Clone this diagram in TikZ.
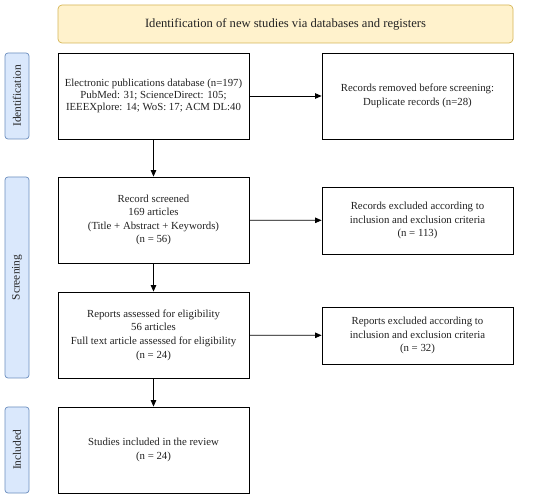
\documentclass[tikz,border=0pt]{standalone}
\usepackage{fontspec}
\setmainfont{Liberation Serif}
\usetikzlibrary{arrows.meta}
\definecolor{hdrfill}{HTML}{FFF2CC}
\definecolor{hdrdraw}{HTML}{D6B656}
\definecolor{sidefill}{HTML}{DAE8FC}
\definecolor{sidedraw}{HTML}{6C8EBF}
\definecolor{txt}{HTML}{222222}
\begin{document}
\begin{tikzpicture}[x=1pt,y=-1pt,
  box/.style={draw=black, line width=0.8pt, fill=white, text=txt, font=\fontsize{10.8}{13.6}\selectfont, align=center, inner sep=0pt},
  hdr/.style={draw=hdrdraw, fill=hdrfill, rounded corners=4pt, line width=0.7pt, text=txt, font=\fontsize{12.6}{14}\selectfont, inner sep=0pt},
  side/.style={draw=sidedraw, fill=sidefill, rounded corners=3pt, line width=0.7pt, inner sep=0pt},
  sidetext/.style={rotate=90, text=txt, font=\fontsize{11.4}{13}\selectfont},
  arr/.style={-{Triangle[length=6.5pt,width=5.5pt]}, line width=0.8pt}]
\useasboundingbox (0,0) rectangle (550,500);
\fill[white] (0,0) rectangle (550,500);
% header
\node[hdr, minimum width=455pt, minimum height=38pt] (hdr) at (285.5,24) {Identification of new studies via databases and registers};
% side labels
\node[side, minimum width=24pt, minimum height=86pt] (sid) at (17,96) {};
\node[sidetext] (sidt) at (sid.center) {Identification};
\node[side, minimum width=24pt, minimum height=201pt] (scr) at (17,277.5) {};
\node[sidetext] (scrt) at (scr.center) {Screening};
\node[side, minimum width=24pt, minimum height=86pt] (inc) at (17,450) {};
\node[sidetext] (inct) at (inc.center) {Included};
% left boxes
\node[box, minimum width=191pt, minimum height=86pt, font=\fontsize{10.8}{11.7}\selectfont] (b1) at (153.5,96) {Electronic publications database (n=197)\\PubMed: 31; ScienceDirect: 105;\\IEEEXplore: 14; WoS: 17; ACM DL:40};
\node[box, minimum width=191pt, minimum height=86pt] (b2) at (153.5,220) {Record screened\\169 articles\\(Title + Abstract + Keywords)\\(n = 56)};
\node[box, minimum width=191pt, minimum height=86pt] (b3) at (153.5,335) {Reports assessed for eligibility\\56 articles\\Full text article assessed for eligibility\\(n = 24)};
\node[box, minimum width=191pt, minimum height=86pt] (b4) at (153.5,450) {Studies included in the review\\(n = 24)};
% right boxes
\node[box, minimum width=191pt, minimum height=86pt] (r1) at (417.5,96) {Records removed before screening:\\Duplicate records (n=28)};
\node[box, minimum width=191pt, minimum height=67pt] (r2) at (417.5,220.5) {Records excluded according to\\inclusion and exclusion criteria\\(n = 113)};
\node[box, minimum width=191pt, minimum height=57pt] (r3) at (417.5,335.5) {Reports excluded according to\\inclusion and exclusion criteria\\(n = 32)};
% arrows
\draw[arr] (b1) -- (r1);
\draw[arr] (b2) -- (r2);
\draw[arr] (b3) -- (r3);
\draw[arr] (b1) -- (b2);
\draw[arr] (b2) -- (b3);
\draw[arr] (b3) -- (b4);
\end{tikzpicture}
\end{document}
